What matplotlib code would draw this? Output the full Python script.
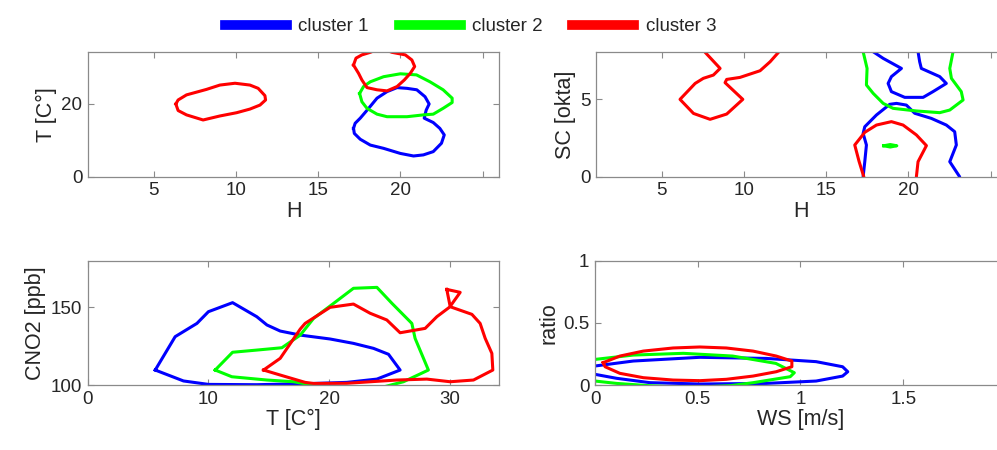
import matplotlib.pyplot as plt
from matplotlib.lines import Line2D

plt.rcParams['font.family'] = ['Liberation Sans', 'DejaVu Sans']

# ---------------------------------------------------------------
# contour outlines, (x, y) per vertex
# ---------------------------------------------------------------
cluster_names = ['cluster 1', 'cluster 2', 'cluster 3']
cluster_colors = ['#0000ff', '#00ff00', '#ff0000']

# panel 1: H vs T
ht_c1 = [(17.15, 13.3), (17.2, 11.9), (17.56, 10.3), (18.17, 8.7), (18.98, 7.8),
         (20.0, 6.4), (20.8, 5.7), (21.4, 6.0), (22.0, 6.9), (22.5, 9.2),
         (22.67, 11.5), (22.4, 13.3), (22.0, 14.9), (21.45, 16.1), (21.57, 18.3),
         (21.75, 20.0), (21.5, 22.0), (21.0, 23.9), (20.4, 24.3), (19.8, 24.5),
         (19.19, 23.4), (18.58, 21.6), (18.07, 18.8), (17.56, 16.1), (17.25, 14.7),
         (17.15, 13.3)]
ht_c2 = [(17.52, 22.9), (17.66, 20.6), (17.97, 18.8), (18.58, 17.2), (19.19, 16.5),
         (20.4, 16.5), (21.4, 17.0), (22.0, 17.2), (22.6, 18.8), (23.15, 20.4),
         (23.15, 21.6), (22.6, 23.9), (21.8, 26.1), (20.98, 28.0), (20.0, 28.3),
         (18.98, 27.5), (18.17, 26.1), (17.76, 24.8), (17.52, 22.9)]
ht_c3_a = [(6.34, 20.0), (6.48, 18.2), (6.99, 17.0), (8.0, 15.6), (9.02, 16.7),
           (10.04, 17.6), (10.85, 18.6), (11.46, 19.7), (11.8, 21.1), (11.76, 22.3),
           (11.35, 24.3), (10.85, 25.2), (9.94, 25.7), (9.02, 25.2), (8.2, 24.0),
           (6.99, 22.5), (6.48, 21.1), (6.34, 20.0)]
ht_c3_b = [(17.15, 30.7), (17.3, 32.6), (17.66, 33.5), (18.17, 34.2), (18.8, 35.4),
           (19.49, 34.2), (20.3, 33.5), (20.7, 32.1), (20.87, 30.3), (20.6, 28.4),
           (20.24, 26.6), (19.8, 24.8), (19.19, 23.6), (18.58, 23.9), (17.97, 24.5),
           (17.66, 26.6), (17.46, 28.4), (17.15, 30.7)]

# panel 2: H vs SC
hsc_c1_a = [(17.65, 8.4), (17.86, 8.08), (18.47, 7.65), (19.58, 7.0), (18.97, 6.47),
            (18.77, 6.03), (18.97, 5.5), (19.78, 5.13), (20.9, 5.13), (21.5, 5.5),
            (22.31, 6.03), (21.91, 6.47), (20.79, 7.0), (20.69, 7.43), (20.59, 8.08),
            (20.55, 8.4)]
hsc_c1_b = [(17.25, -0.3), (17.25, 0.0), (17.35, 0.97), (17.45, 2.05), (17.25, 2.8),
            (17.35, 3.23), (18.06, 3.99), (18.87, 4.68), (19.28, 4.74), (19.88, 4.63),
            (20.39, 4.1), (21.4, 3.77), (22.31, 3.34), (22.82, 2.91), (22.92, 2.05),
            (22.52, 0.97), (23.12, 0.0), (23.15, -0.3)]
hsc_c2_a = [(17.21, 8.4), (17.25, 8.08), (17.49, 7.0), (17.45, 5.93), (17.86, 5.39),
            (18.47, 4.74), (19.07, 4.42), (20.49, 4.25), (21.91, 4.14), (22.52, 4.31),
            (23.33, 4.96), (23.22, 5.5), (22.62, 6.36), (22.52, 7.0), (22.72, 8.08),
            (22.76, 8.4)]
hsc_c2_b = [(18.5, 2.0), (18.9, 2.08), (19.3, 2.0), (18.9, 1.92), (18.5, 2.0)]
hsc_c3_a = [(7.43, 8.4), (7.64, 8.04), (8.55, 7.0), (8.14, 6.57), (7.53, 6.36),
            (7.03, 6.03), (6.11, 5.0), (6.93, 4.09), (7.94, 3.71), (8.95, 4.05),
            (9.93, 5.0), (8.85, 6.08), (8.95, 6.29), (9.76, 6.42), (10.98, 6.85),
            (11.59, 7.43), (12.1, 8.04), (12.4, 8.4)]
hsc_c3_b = [(17.3, -0.3), (17.29, 0.0), (17.0, 1.0), (16.74, 2.05), (17.35, 2.87),
            (18.06, 3.34), (18.97, 3.56), (19.68, 3.34), (20.49, 2.7), (21.1, 2.01),
            (20.59, 0.97), (20.49, 0.0), (20.49, -0.3)]

# panel 3: T vs CNO2
tno2_c1 = [(5.6, 109.6), (7.25, 131.0), (9.05, 139.5), (10.0, 147.0), (12.0, 152.8),
           (14.0, 143.8), (14.84, 138.5), (15.94, 134.6), (17.6, 132.0), (20.07, 129.5),
           (22.0, 126.7), (23.66, 123.5), (24.9, 119.7), (25.86, 109.6), (23.94, 103.8),
           (21.45, 101.7), (18.7, 101.0), (14.0, 100.2), (10.0, 100.4), (7.94, 102.6),
           (5.6, 109.6)]
tno2_c2 = [(10.56, 109.6), (12.0, 121.0), (14.0, 122.4), (16.08, 123.9), (17.6, 132.0),
           (18.7, 142.7), (20.3, 152.0), (22.0, 162.0), (23.94, 162.6), (25.18, 152.4),
           (26.83, 139.5), (27.1, 129.9), (28.2, 109.6), (26.14, 102.1), (24.5, 98.8),
           (19.5, 98.8), (17.04, 102.1), (14.84, 103.2), (11.94, 105.3), (10.56, 109.6)]
tno2_c3_a = [(14.56, 109.6), (15.94, 117.1), (17.6, 135.9), (18.0, 139.5), (20.07, 149.8),
             (22.0, 151.9), (23.38, 146.0), (24.76, 141.7), (25.86, 133.5), (27.93, 136.3),
             (28.9, 143.8), (30.0, 150.2), (31.8, 145.3), (32.48, 139.5), (32.9, 129.9),
             (33.45, 120.3), (33.53, 109.6), (31.93, 103.2), (30.0, 102.1), (28.07, 103.8),
             (25.59, 103.2), (21.45, 101.1), (18.7, 101.0), (18.0, 101.7), (15.94, 106.4),
             (14.56, 109.6)]
tno2_c3_b = [(29.72, 161.3), (30.83, 159.4), (30.0, 150.4), (29.72, 161.3)]

# panel 4: WS vs ratio
wsr_c1 = [(-0.02, 0.153), (0.0, 0.153), (0.186, 0.193), (0.51, 0.223), (0.833, 0.214),
          (1.076, 0.188), (1.205, 0.147), (1.23, 0.107), (1.205, 0.072), (1.076, 0.032),
          (0.833, 0.013), (0.51, 0.008), (0.267, 0.019), (0.105, 0.054), (0.0, 0.086),
          (-0.02, 0.09)]
wsr_c2 = [(-0.02, 0.205), (0.0, 0.206), (0.186, 0.241), (0.43, 0.255), (0.67, 0.233),
          (0.88, 0.174), (0.97, 0.099), (0.95, 0.067), (0.77, 0.019), (0.66, -0.005),
          (0.45, -0.02), (0.26, -0.005), (0.105, 0.013), (0.0, 0.032), (-0.02, 0.035)]
wsr_c3 = [(0.04, 0.18), (0.121, 0.233), (0.235, 0.273), (0.38, 0.298), (0.51, 0.306),
          (0.639, 0.298), (0.769, 0.273), (0.882, 0.233), (0.958, 0.193), (0.958, 0.147),
          (0.882, 0.107), (0.769, 0.072), (0.639, 0.046), (0.51, 0.035), (0.38, 0.04),
          (0.235, 0.059), (0.121, 0.094), (0.049, 0.147), (0.04, 0.18)]

# axis setup per panel
panels = [
    dict(curves=[[ht_c1], [ht_c2], [ht_c3_a, ht_c3_b]],
         xlabel='H', ylabel='T [C°]', xlim=(1, 26), ylim=(0, 34.2),
         xticks=[5, 10, 15, 20, 25], xticklabels=['5', '10', '15', '20', ''],
         yticks=[0, 20], yticklabels=['0', '20'],
         pos=[0.0883, 0.6073, 0.4122, 0.2764]),
    dict(curves=[[hsc_c1_a, hsc_c1_b], [hsc_c2_a, hsc_c2_b], [hsc_c3_a, hsc_c3_b]],
         xlabel='H', ylabel='SC [okta]', xlim=(1, 26), ylim=(0, 8.04),
         xticks=[5, 10, 15, 20, 25], xticklabels=['5', '10', '15', '20', ''],
         yticks=[0, 5], yticklabels=['0', '5'],
         pos=[0.5978, 0.6073, 0.4122, 0.2764]),
    dict(curves=[[tno2_c1], [tno2_c2], [tno2_c3_a, tno2_c3_b]],
         xlabel='T [C°]', ylabel='CNO2 [ppb]', xlim=(0, 34), ylim=(100, 179.5),
         xticks=[0, 10, 20, 30], xticklabels=['0', '10', '20', '30'],
         yticks=[100, 150], yticklabels=['100', '150'],
         pos=[0.0878, 0.1444, 0.4122, 0.2756]),
    dict(curves=[[wsr_c1], [wsr_c2], [wsr_c3]],
         xlabel='WS [m/s]', ylabel='ratio', xlim=(0, 2), ylim=(0, 1),
         xticks=[0, 0.5, 1, 1.5, 2], xticklabels=['0', '0.5', '1', '1.5', ''],
         yticks=[0, 0.5, 1], yticklabels=['0', '0.5', '1'],
         pos=[0.5968, 0.1444, 0.4122, 0.2762]),
]

edge_col = '#8a8a8a'
text_col = '#262626'

fig = plt.figure(figsize=(9.97, 4.5), dpi=100)

for p in panels:
    ax = fig.add_axes(p['pos'])
    for segs, col in zip(p['curves'], cluster_colors):
        for seg in segs:
            xs = [v[0] for v in seg]
            ys = [v[1] for v in seg]
            ax.plot(xs, ys, color=col, lw=2.2)
    ax.set_xlim(*p['xlim'])
    ax.set_ylim(*p['ylim'])
    ax.set_xticks(p['xticks'])
    ax.set_xticklabels(p['xticklabels'])
    ax.set_yticks(p['yticks'])
    ax.set_yticklabels(p['yticklabels'])
    ax.tick_params(direction='in', length=4, width=0.8, color=edge_col,
                   labelcolor=text_col, labelsize=13.5, top=True, right=True, pad=4)
    for s in ax.spines.values():
        s.set_color(edge_col)
        s.set_linewidth(0.9)
    ax.set_xlabel(p['xlabel'], fontsize=15.5, color=text_col, labelpad=1)
    ax.set_ylabel(p['ylabel'], fontsize=15.5, color=text_col, labelpad=3)

handles = [Line2D([0], [0], color=c, lw=7) for c in cluster_colors]
fig.legend(handles, cluster_names, loc='center', bbox_to_anchor=(0.472, 0.941),
           ncol=3, frameon=False, fontsize=13.5, handlelength=3.3,
           handletextpad=0.6, columnspacing=1.6, labelcolor=text_col)

fig.savefig('out.png', dpi=100)
